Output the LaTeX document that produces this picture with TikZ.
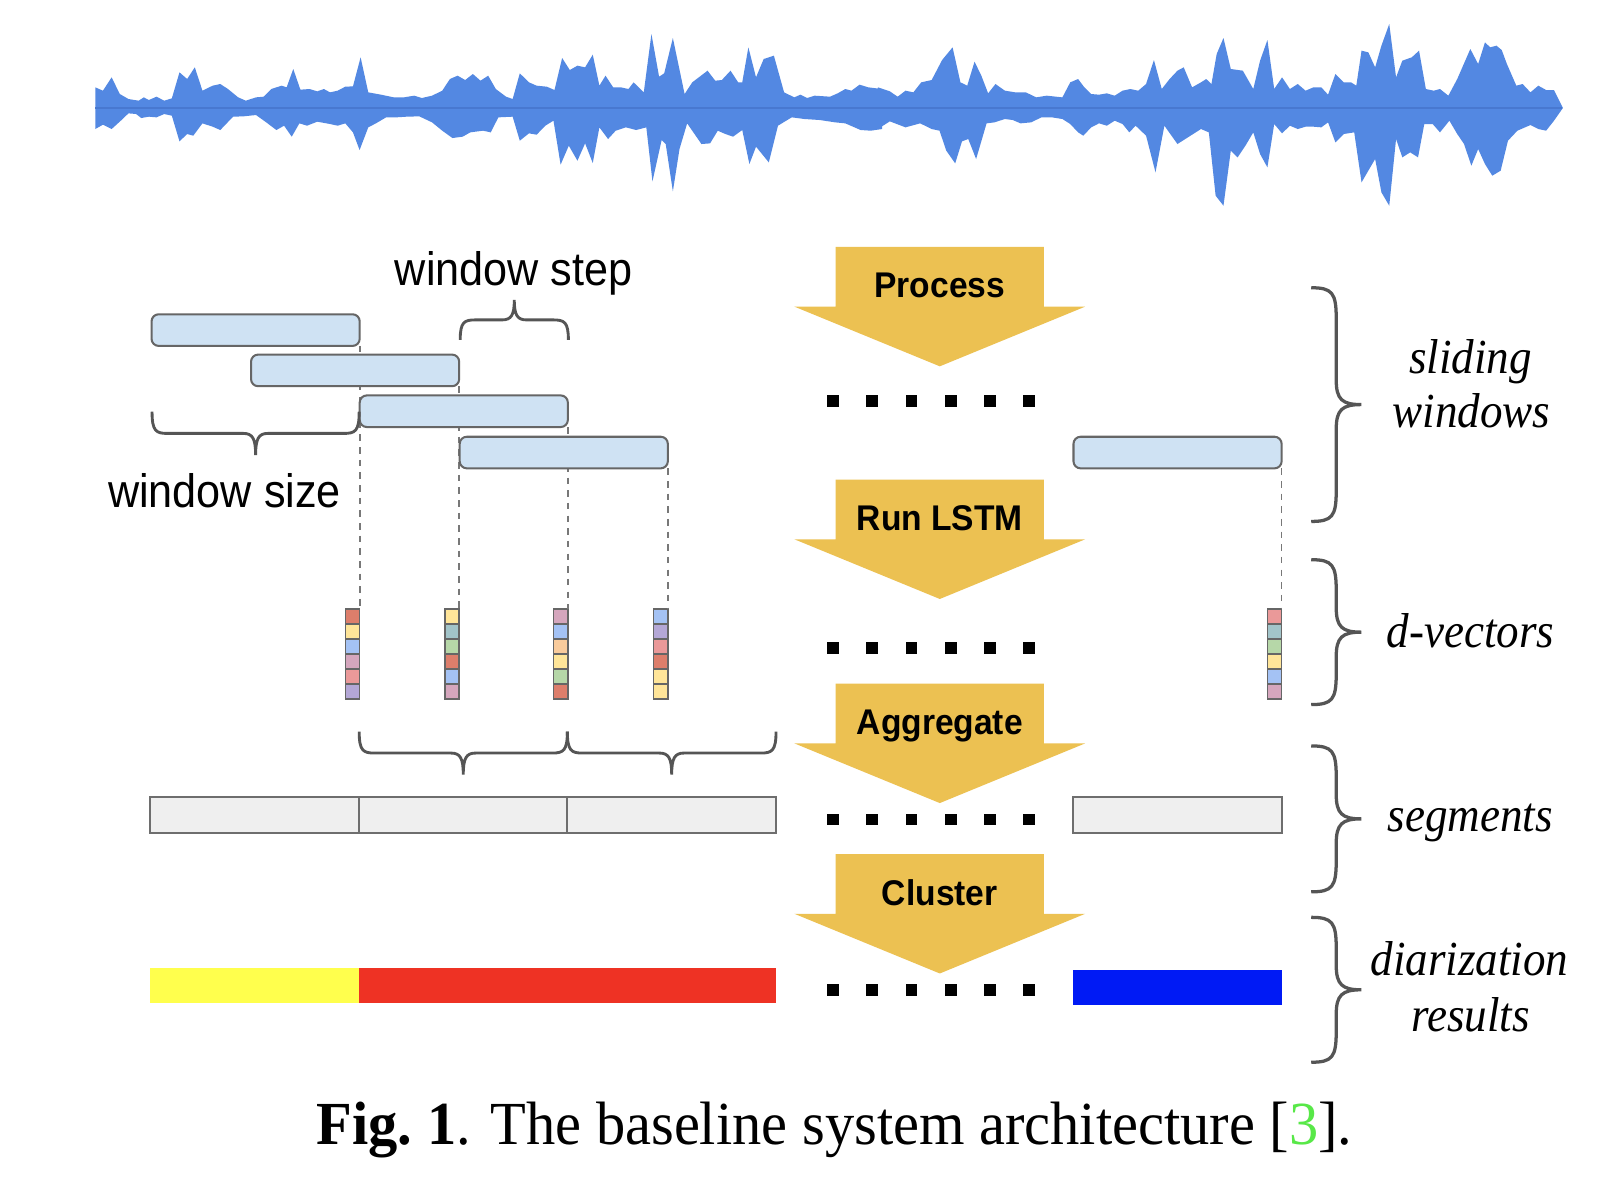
\documentclass[tikz,border=0pt]{standalone}
\usepackage{fontspec}
\setmainfont{Liberation Serif}
\newfontfamily\arialf{Liberation Sans}
\usepackage{graphicx}
\definecolor{wavecol}{RGB}{83,136,226}
\definecolor{wavemid}{RGB}{72,120,208}
\definecolor{winfill}{RGB}{207,226,243}
\definecolor{boxline}{RGB}{102,102,102}
\definecolor{dashcol}{RGB}{120,120,120}
\definecolor{bracecol}{RGB}{85,85,85}
\definecolor{segfill}{RGB}{239,239,239}
\definecolor{segline}{RGB}{110,110,110}
\definecolor{arrowcol}{RGB}{236,193,82}
\definecolor{resY}{RGB}{255,255,77}
\definecolor{resR}{RGB}{238,50,36}
\definecolor{resB}{RGB}{0,26,245}
\definecolor{citegreen}{RGB}{88,232,72}
\definecolor{cR}{HTML}{DD7E6B}
\definecolor{cY}{HTML}{FFE599}
\definecolor{cB}{HTML}{A4C2F4}
\definecolor{cM}{HTML}{D5A6BD}
\definecolor{cS}{HTML}{EA9999}
\definecolor{cL}{HTML}{B4A7D6}
\definecolor{cT}{HTML}{A2C4C9}
\definecolor{cG}{HTML}{B6D7A8}
\definecolor{cO}{HTML}{F9CB9C}
\newcommand{\sx}[2]{\scalebox{#1}[1]{#2}}
% horizontal brace: x1, x2, y of ends, depth (signed)
\newcommand{\myhbrace}[4]{%
  \draw[braceline] (#1,#3) .. controls (#1,{#3+0.45*(#4)}) and ({#1+4},{#3+0.5*(#4)}) .. ({#1+15},{#3+0.5*(#4)})
  -- ({(#1+#2)/2-12},{#3+0.5*(#4)}) .. controls ({(#1+#2)/2-3},{#3+0.5*(#4)}) and ({(#1+#2)/2},{#3+0.62*(#4)}) .. ({(#1+#2)/2},{#3+#4})
  .. controls ({(#1+#2)/2},{#3+0.62*(#4)}) and ({(#1+#2)/2+3},{#3+0.5*(#4)}) .. ({(#1+#2)/2+12},{#3+0.5*(#4)})
  -- ({#2-15},{#3+0.5*(#4)}) .. controls ({#2-4},{#3+0.5*(#4)}) and (#2,{#3+0.45*(#4)}) .. (#2,#3);}
% vertical right brace: x of ends, y top, y bottom, width
\newcommand{\myvbrace}[4]{%
  \draw[bigbraceline] (#1,#2) .. controls ({#1+0.42*(#4)},#2) and ({#1+0.5*(#4)},{#2+5}) .. ({#1+0.5*(#4)},{#2+30})
  -- ({#1+0.5*(#4)},{(#2+#3)/2-24}) .. controls ({#1+0.5*(#4)},{(#2+#3)/2-5}) and ({#1+0.62*(#4)},{(#2+#3)/2}) .. ({#1+#4},{(#2+#3)/2})
  .. controls ({#1+0.62*(#4)},{(#2+#3)/2}) and ({#1+0.5*(#4)},{(#2+#3)/2+5}) .. ({#1+0.5*(#4)},{(#2+#3)/2+24})
  -- ({#1+0.5*(#4)},{#3-30}) .. controls ({#1+0.5*(#4)},{#3-5}) and ({#1+0.42*(#4)},#3) .. (#1,#3);}
% d-vector: name, right x, six colours
\newcommand{\dvec}[8]{%
  \node[vecbox, anchor=north east] (#1) at (#2,597) {};
  \foreach \cc [count=\i] in {#3,#4,#5,#6,#7,#8}
    \filldraw[fill=\cc, draw=boxline, line width=0.7pt] ({#2-14},{597+(\i-1)*14.67}) rectangle (#2,{597+\i*14.67});}
% big yellow arrow: top y, node name, label
\newcommand{\bigarrow}[3]{%
  \fill[arrowcol] (819,#1) -- (1023,#1) -- (1023,{#1+58.5}) -- (1063.5,{#1+58.5}) -- (921,{#1+117}) -- (778.5,{#1+58.5}) -- (819,{#1+58.5}) -- cycle;
  \node[boldlabel, anchor=base] (#2) at (921,{#1+50}) {\sx{0.94}{#3}};}
\begin{document}
\begin{tikzpicture}[x=0.5pt,y=-0.5pt,
  winbox/.style={draw=boxline, fill=winfill, line width=1pt, rounded corners=3.5pt, minimum width=102pt, minimum height=15.5pt, inner sep=0pt, outer sep=0pt},
  segbox/.style={draw=segline, fill=segfill, line width=1pt, minimum width=102.25pt, minimum height=17.5pt, inner sep=0pt, outer sep=0pt},
  resbox/.style={minimum width=102.25pt, minimum height=17pt, inner sep=0pt, outer sep=0pt},
  vecbox/.style={minimum width=7pt, minimum height=44pt, inner sep=0pt, outer sep=0pt},
  dashline/.style={draw=dashcol, line width=0.8pt, dash pattern=on 3.2pt off 3pt},
  braceline/.style={draw=bracecol, line width=1.4pt},
  bigbraceline/.style={draw=bracecol, line width=1.6pt},
  sanslabel/.style={inner sep=0pt, font=\arialf\fontsize{23}{27}\selectfont},
  boldlabel/.style={inner sep=0pt, font=\arialf\bfseries\fontsize{17.5}{21}\selectfont},
  itlabel/.style={inner sep=0pt, font=\itshape\fontsize{24}{28}\selectfont},
  caplabel/.style={inner sep=0pt, font=\fontsize{30}{34}\selectfont}]
\useasboundingbox (0,0) rectangle (1568,1176);
\fill[white] (0,0) rectangle (1568,1176);

% ---- waveform (left part) ----
\begin{scope}[shift={(78.4,17)},xscale=0.5,yscale=0.3267]
\fill[wavecol] (30,272) -- (30,210) -- (45,220) -- (62,180) -- (78,230) -- (95,245) -- (115,250) -- (125,240) -- (135,248) -- (150,238) -- (165,250) -- (180,243) -- (195,165) -- (210,185) -- (225,150) -- (240,220) -- (260,205) -- (275,200) -- (290,215) -- (310,240) -- (325,250) -- (345,240) -- (360,238) -- (375,215) -- (395,205) -- (405,210) -- (418,155) -- (432,217) -- (450,215) -- (465,222) -- (478,215) -- (490,225) -- (505,220) -- (520,208) -- (535,207) -- (550,120) -- (565,225) -- (590,232) -- (615,240) -- (635,240) -- (655,235) -- (670,242) -- (690,235) -- (710,220) -- (725,185) -- (740,175) -- (755,188) -- (770,170) -- (785,190) -- (800,175) -- (815,215) -- (835,238) -- (848,245) -- (862,168) -- (880,195) -- (895,205) -- (915,208) -- (930,218) -- (945,122) -- (960,158) -- (975,145) -- (990,150) -- (1005,112) -- (1018,205) -- (1030,175) -- (1045,210) -- (1060,210) -- (1075,215) -- (1085,195) -- (1105,225) -- (1120,50) -- (1135,178) -- (1145,168) -- (1162,62) -- (1185,230) -- (1200,195) -- (1230,160) -- (1245,190) -- (1258,188) -- (1275,160) -- (1290,195) -- (1298,195) -- (1310,90) -- (1325,180) -- (1340,125) -- (1360,115) -- (1380,225) -- (1400,240) -- (1412,232) -- (1425,242) -- (1440,235) -- (1470,238) -- (1485,228) -- (1500,215) -- (1512,220) -- (1528,202) -- (1545,210) -- (1572,215) -- (1572,272) -- cycle;
\fill[wavecol] (30,272) -- (30,335) -- (45,322) -- (62,335) -- (80,310) -- (95,288) -- (110,290) -- (120,302) -- (135,298) -- (150,300) -- (165,290) -- (180,295) -- (195,372) -- (210,350) -- (222,355) -- (240,318) -- (260,328) -- (275,338) -- (300,298) -- (320,297) -- (345,293) -- (365,315) -- (385,338) -- (400,325) -- (415,358) -- (430,318) -- (445,325) -- (465,313) -- (490,320) -- (505,325) -- (520,318) -- (535,345) -- (548,398) -- (565,330) -- (580,318) -- (600,300) -- (620,300) -- (640,298) -- (665,297) -- (690,315) -- (710,340) -- (730,362) -- (750,358) -- (765,345) -- (790,340) -- (805,345) -- (820,300) -- (848,298) -- (862,370) -- (880,348) -- (895,352) -- (912,325) -- (928,310) -- (942,442) -- (958,385) -- (975,430) -- (990,378) -- (1005,437) -- (1018,330) -- (1035,365) -- (1050,340) -- (1070,330) -- (1090,338) -- (1110,330) -- (1122,492) -- (1140,368) -- (1148,380) -- (1162,522) -- (1175,395) -- (1190,318) -- (1218,380) -- (1235,378) -- (1250,340) -- (1265,350) -- (1280,358) -- (1298,338) -- (1312,440) -- (1325,388) -- (1350,435) -- (1368,325) -- (1395,300) -- (1420,305) -- (1450,308) -- (1480,315) -- (1500,318) -- (1530,338) -- (1550,340) -- (1572,335) -- (1572,272) -- cycle;
\end{scope}
% ---- waveform (right part) ----
\begin{scope}[shift={(764.4,17)},xscale=0.5125,yscale=0.3267]
\fill[wavecol] (187,272) -- (187,210) -- (210,222) -- (225,238) -- (240,220) -- (255,225) -- (270,195) -- (290,188) -- (310,128) -- (330,90) -- (345,195) -- (358,205) -- (372,133) -- (385,175) -- (398,228) -- (412,200) -- (430,220) -- (450,225) -- (470,225) -- (490,240) -- (510,235) -- (540,240) -- (555,195) -- (570,185) -- (582,210) -- (595,230) -- (610,232) -- (625,228) -- (640,235) -- (655,220) -- (670,215) -- (685,220) -- (700,200) -- (715,128) -- (730,215) -- (745,185) -- (760,160) -- (772,150) -- (788,210) -- (805,195) -- (815,185) -- (825,200) -- (835,110) -- (848,62) -- (862,155) -- (885,160) -- (905,215) -- (918,130) -- (932,68) -- (945,215) -- (960,180) -- (975,215) -- (990,200) -- (1005,220) -- (1020,210) -- (1035,210) -- (1048,232) -- (1062,170) -- (1078,195) -- (1092,195) -- (1102,205) -- (1112,100) -- (1125,105) -- (1138,150) -- (1150,85) -- (1165,20) -- (1178,180) -- (1190,130) -- (1208,120) -- (1222,100) -- (1235,215) -- (1250,220) -- (1262,215) -- (1278,235) -- (1295,185) -- (1320,95) -- (1335,140) -- (1348,75) -- (1358,90) -- (1370,85) -- (1380,98) -- (1390,140) -- (1408,205) -- (1420,200) -- (1435,225) -- (1450,205) -- (1465,218) -- (1480,218) -- (1497,272) -- cycle;
\fill[wavecol] (187,272) -- (187,335) -- (210,312) -- (240,330) -- (268,318) -- (290,335) -- (305,340) -- (318,400) -- (335,438) -- (348,372) -- (360,365) -- (375,425) -- (395,318) -- (410,315) -- (430,305) -- (445,308) -- (460,318) -- (480,315) -- (500,300) -- (520,300) -- (540,305) -- (555,320) -- (570,345) -- (580,355) -- (595,330) -- (610,318) -- (625,325) -- (640,310) -- (655,320) -- (668,345) -- (680,325) -- (700,355) -- (718,465) -- (735,325) -- (760,380) -- (790,350) -- (805,335) -- (820,345) -- (833,535) -- (848,565) -- (862,400) -- (875,420) -- (890,385) -- (905,345) -- (918,410) -- (932,450) -- (945,320) -- (960,348) -- (975,325) -- (990,335) -- (1005,328) -- (1020,328) -- (1035,330) -- (1048,315) -- (1062,375) -- (1078,350) -- (1098,345) -- (1112,495) -- (1125,460) -- (1138,425) -- (1150,525) -- (1165,565) -- (1178,365) -- (1190,420) -- (1205,405) -- (1220,420) -- (1232,320) -- (1248,320) -- (1262,345) -- (1280,310) -- (1295,350) -- (1308,380) -- (1322,445) -- (1335,395) -- (1348,440) -- (1362,475) -- (1378,460) -- (1392,370) -- (1410,340) -- (1435,323) -- (1450,335) -- (1465,340) -- (1480,310) -- (1497,272) -- cycle;
\end{scope}
\draw[wavemid, line width=1.2pt] (93.4,105.9) -- (1531,105.9);

% ---- d-vectors ----
\dvec{v1}{352.5}{cR}{cY}{cB}{cM}{cS}{cL}
\dvec{v2}{450}{cY}{cT}{cG}{cR}{cB}{cM}
\dvec{v3}{556.5}{cM}{cB}{cO}{cY}{cG}{cR}
\dvec{v4}{654.5}{cB}{cL}{cS}{cR}{cY}{cY}
\dvec{v5}{1256}{cS}{cT}{cG}{cY}{cB}{cM}

% ---- sliding windows (positions) ----
\coordinate (w1se) at (352.5,339);
\coordinate (w2se) at (450,378.5);
\coordinate (w3se) at (556.5,418.5);
\coordinate (w4se) at (654.5,459);
\coordinate (w5se) at (1256,459);
\draw[dashline] (w1se) -- (v1.north east);
\draw[dashline] (w2se) -- (v2.north east);
\draw[dashline] (w3se) -- (v3.north east);
\draw[dashline] (w4se) -- (v4.north east);
\draw[dashline] (w5se) -- (v5.north east);
\node[winbox, anchor=north west] (w1) at (148.5,308) {};
\node[winbox, anchor=north west] (w2) at (246,347.5) {};
\node[winbox, anchor=north west] (w3) at (352.5,387.5) {};
\node[winbox, anchor=north west] (w4) at (450.5,428) {};
\node[winbox, anchor=north west] (w5) at (1052,428) {};

% ---- braces and labels on the left ----
\myhbrace{451}{557}{333}{-39}
\node[sanslabel, anchor=base] (stepl) at (503.5,280) {\sx{0.92}{window step}};
\myhbrace{149}{352}{403.5}{42.5}
\node[sanslabel, anchor=base] (sizel) at (220,497) {\sx{0.92}{window size}};
\myhbrace{352}{556}{717}{42}
\myhbrace{556}{760.5}{717}{42}

% ---- segments ----
\node[segbox, anchor=north west] (s1) at (147,781) {};
\node[segbox, anchor=north west] (s2) at (351.5,781) {};
\node[segbox, anchor=north west] (s3) at (556,781) {};
\node[segbox, anchor=north west] (s4) at (1051.5,781) {};

% ---- diarization results ----
\node[resbox, fill=resY, anchor=north west] (r1) at (147,949) {};
\node[resbox, fill=resR, anchor=north west, minimum width=204.5pt] (r2) at (351.5,949) {};
\node[resbox, fill=resB, anchor=north west] (r3) at (1052,950.5) {};

% ---- process arrows ----
\bigarrow{242}{aprocess}{Process}
\bigarrow{470}{alstm}{Run LSTM}
\bigarrow{670}{aagg}{Aggregate}
\bigarrow{837}{aclust}{Cluster}

% ---- ellipsis dots ----
\foreach \yy in {393,635,803,970}
  \foreach \i in {0,...,5}
    \fill[black] ({816.5+38.4*\i-5.75},{\yy-5.75}) rectangle +(11.5,11.5);

% ---- right braces and labels ----
\myvbrace{1285}{282}{511}{49}
\myvbrace{1285}{548.5}{690.5}{49}
\myvbrace{1285}{731}{874}{49}
\myvbrace{1285}{899}{1041}{49}
\node[itlabel, anchor=base] (lsl) at (1441,366) {\sx{0.92}{sliding}};
\node[itlabel, anchor=base] (lwi) at (1442,419) {\sx{0.92}{windows}};
\node[itlabel, anchor=base] (ldv) at (1441,635) {\sx{0.92}{d-vectors}};
\node[itlabel, anchor=base] (lse) at (1441,815) {\sx{0.92}{segments}};
\node[itlabel, anchor=base] (ldi) at (1440,956) {\sx{0.92}{diarization}};
\node[itlabel, anchor=base] (lre) at (1441,1011) {\sx{0.92}{results}};

% ---- caption ----
\node[caplabel, anchor=base] (caption) at (818,1122) {\sx{0.955}{\textbf{Fig.~1}. The baseline system architecture [{\color{citegreen}3}].}};
\end{tikzpicture}
\end{document}
